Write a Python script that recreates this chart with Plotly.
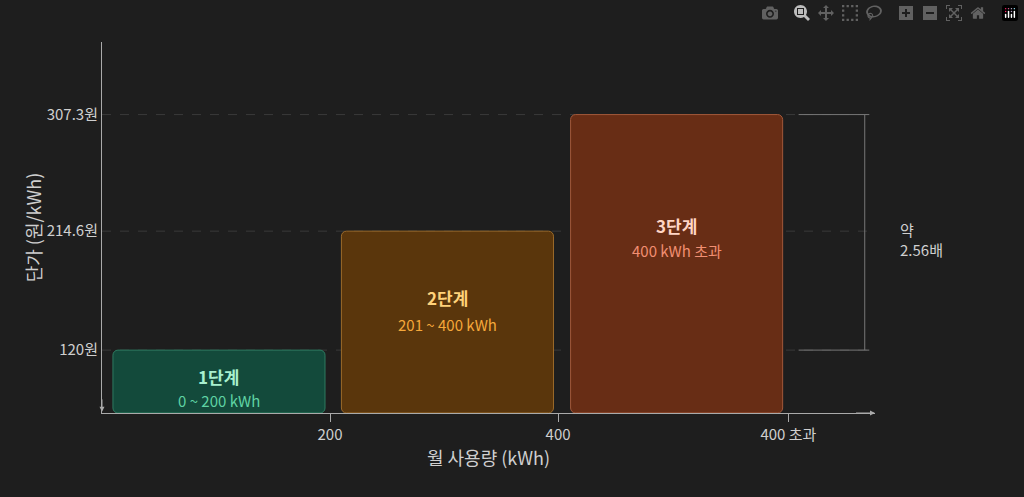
import plotly.graph_objects as go

tiers = ["1단계", "2단계", "3단계"]
ranges = ["0 ~ 200 kWh", "201 ~ 400 kWh", "400 kWh 초과"]
prices = [120, 214.6, 307.3]
centers = [102.6, 303, 504]
tick_vals = [200, 400, 602]
tick_text = ["200", "400", "400 초과"]

fills = ["#134a3b", "#5a360c", "#682d15"]
borders = ["#2e7a60", "#9a6a2a", "#a0583a"]
title_cols = ["#a8f0cf", "#ffd27a", "#ffd5c5"]
sub_cols = ["#5fd3a4", "#f5a83a", "#f28f72"]

base = 70
fig = go.Figure()
fig.add_trace(go.Bar(
    x=centers, y=[p - base for p in prices], base=base, width=186,
    marker=dict(color=fills, line=dict(color=borders, width=1), cornerradius=5),
    hoverinfo="skip",
))

for p in prices:
    fig.add_shape(type="line", x0=0, x1=672, y0=p, y1=p,
                  line=dict(color="#3a3a3a", width=1, dash="dash"), layer="below")

title_y = [99.4, 162.2, 219.4]
sub_y = [80.3, 140.7, 199.6]
for c, t, r, ty, sy, tc, sc in zip(centers, tiers, ranges, title_y, sub_y, title_cols, sub_cols):
    fig.add_annotation(x=c, y=ty, text=f"<b>{t}</b>", showarrow=False,
                       font=dict(size=17, color=tc))
    fig.add_annotation(x=c, y=sy, text=r, showarrow=False,
                       font=dict(size=15, color=sc))

# bracket
fig.add_shape(type="line", x0=611, x1=673, y0=prices[2], y1=prices[2], line=dict(color="#777", width=1))
fig.add_shape(type="line", x0=611, x1=673, y0=prices[0], y1=prices[0], line=dict(color="#777", width=1))
fig.add_shape(type="line", x0=669, x1=669, y0=prices[0], y1=prices[2], line=dict(color="#777", width=1))
fig.add_annotation(x=1.03, xref="paper", y=prices[1], yshift=-8, text="약<br>2.56배", showarrow=False,
                   xanchor="left", align="left", font=dict(size=15, color="#cfcfcf"))

# axes arrows
fig.add_annotation(x=678, y=base, ax=660, ay=base, axref="x", ayref="y", xref="x", yref="y",
                   showarrow=True, arrowhead=2, arrowsize=1, arrowwidth=1, arrowcolor="#aaa", text="")
fig.add_annotation(x=0, y=base + 1, ax=0, ay=base + 12, axref="x", ayref="y",
                   showarrow=True, arrowhead=2, arrowsize=1, arrowwidth=1, arrowcolor="#aaa", text="")

fig.update_layout(
    width=1024, height=497, paper_bgcolor="#1e1e1e", plot_bgcolor="#1e1e1e",
    margin=dict(l=102, r=149, t=42, b=84), showlegend=False,
    font=dict(family="Noto Sans CJK KR", color="#cfcfcf", size=15),
    xaxis=dict(range=[0, 678], tickvals=tick_vals, ticktext=tick_text, showgrid=False,
               zeroline=False, showline=True, linecolor="#aaa", ticks="outside",
               tickcolor="#aaa", ticklen=8, title=dict(text="월 사용량 (kWh)", standoff=4)),
    yaxis=dict(range=[base, 365], tickvals=prices, ticktext=["120원", "214.6원", "307.3원"],
               showgrid=False, zeroline=False, showline=True, linecolor="#aaa",
               title=dict(text="단가 (원/kWh)", standoff=0), ticklen=0),
)
fig.write_html("out.html", post_script="document.body.style.margin='0';document.body.style.background='#1e1e1e';")
